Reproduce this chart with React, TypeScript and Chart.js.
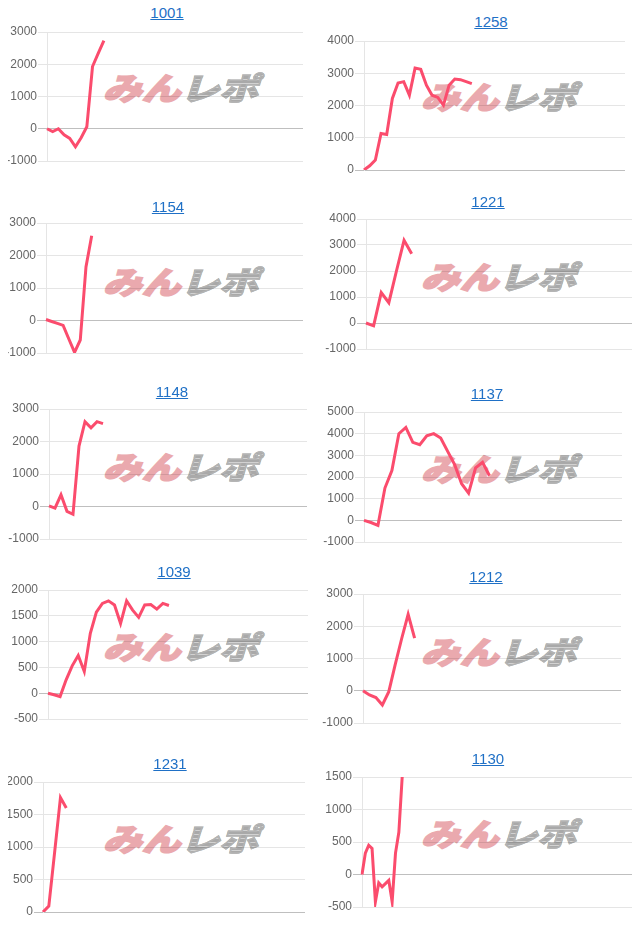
import React, { useEffect, useRef } from "react";
import { Chart, registerables } from "chart.js";

Chart.register(...registerables);

// ---- data ----
const chartIds = ["1001", "1258", "1154", "1221", "1148", "1137", "1039", "1212", "1231", "1130"];

const d1001 = [0, -90, 0, -190, -300, -560, -280, 60, 1930, 2340, 2730];
const d1258 = [0, 130, 310, 1130, 1100, 2220, 2700, 2740, 2320, 3160, 3120, 2630, 2320, 2250, 2010, 2630, 2820, 2800, 2740, 2680];
const d1154 = [30, -30, -90, -150, -570, -980, -600, 1650, 2610];
const d1221 = [0, -110, 1170, 780, 2000, 3180, 2660];
const d1148 = [20, -50, 360, -150, -240, 1860, 2610, 2420, 2610, 2550];
const d1137 = [0, -100, -230, 1490, 2300, 4000, 4290, 3600, 3490, 3900, 4000, 3800, 3180, 2570, 1690, 1260, 2420, 2680, 2060];
const d1039 = [0, -30, -65, 260, 530, 730, 420, 1160, 1570, 1740, 1790, 1710, 1350, 1790, 1610, 1470, 1710, 1720, 1630, 1740, 1700];
const d1212 = [0, -130, -210, -440, -30, 820, 1620, 2370, 1630];
const d1231 = [0, 90, 920, 1760, 1600];
const d1130 = [0, 330, 450, 400, -420, -130, -190, -140, -90, -420, 330, 650, 1500];

const seriesById: Record<string, number[]> = {
  "1001": d1001, "1258": d1258, "1154": d1154, "1221": d1221, "1148": d1148,
  "1137": d1137, "1039": d1039, "1212": d1212, "1231": d1231, "1130": d1130,
};

// y tick ranges: [min, max, step]
const yMins = [-1000, 0, -1000, -1000, -1000, -1000, -500, -1000, 0, -500];
const yMaxs = [3000, 4000, 3000, 4000, 3000, 5000, 2000, 3000, 2000, 1500];
const ySteps = [1000, 1000, 1000, 1000, 1000, 1000, 500, 1000, 500, 500];
// number of x category slots on each chart
const slotCounts = [45, 46, 45, 36, 43, 37, 43, 40, 45, 83];

// ---- layout (positions only) ----
type Layout = { tx: number; ty: number; L: number; R: number; T: number; B: number; wx: number };
const layouts: Layout[] = [
  { tx: 167, ty: 13, L: 47, R: 303, T: 32, B: 161, wx: 107 },
  { tx: 491, ty: 22, L: 364, R: 625, T: 41, B: 170, wx: 425 },
  { tx: 168, ty: 207, L: 46, R: 303, T: 223, B: 353, wx: 107 },
  { tx: 488, ty: 202, L: 366, R: 640, T: 219, B: 349, wx: 425 },
  { tx: 172, ty: 392, L: 49, R: 307, T: 409, B: 539, wx: 107 },
  { tx: 487, ty: 394, L: 364, R: 622, T: 412, B: 542, wx: 425 },
  { tx: 174, ty: 572, L: 48, R: 308, T: 590, B: 719, wx: 107 },
  { tx: 486, ty: 577, L: 363, R: 621, T: 594, B: 723, wx: 425 },
  { tx: 170, ty: 764, L: 43, R: 305, T: 782, B: 912, wx: 107 },
  { tx: 488, ty: 759, L: 362, R: 640, T: 777, B: 907, wx: 425 },
];

const AXW = 46;
const PADV = 10;
const LINE_COLOR = "#fb4c6d";

function MiniChart({ index }: { index: number }) {
  const ref = useRef<HTMLCanvasElement | null>(null);
  const id = chartIds[index];
  const lay = layouts[index];
  const canvasLeft = lay.L - AXW;
  const canvasTop = lay.T - PADV;
  const cw = lay.R - canvasLeft;
  const ch = lay.B - lay.T + PADV * 2;

  useEffect(() => {
    if (!ref.current) return;
    const labels = Array.from({ length: slotCounts[index] + 1 }, (_, i) => String(i));
    const chart = new Chart(ref.current, {
      type: "line",
      data: {
        labels,
        datasets: [
          {
            data: seriesById[id],
            borderColor: LINE_COLOR,
            backgroundColor: LINE_COLOR,
            borderWidth: 3,
            pointRadius: 0,
            tension: 0,
            fill: false,
          },
        ],
      },
      options: {
        responsive: false,
        animation: false,
        devicePixelRatio: 1,
        layout: { padding: { top: PADV, bottom: PADV, left: 0, right: 0 } },
        plugins: { legend: { display: false }, tooltip: { enabled: false }, title: { display: false } },
        scales: {
          x: { display: false },
          y: {
            min: yMins[index],
            max: yMaxs[index],
            ticks: {
              stepSize: ySteps[index],
              color: "#666",
              font: { family: "Arial, 'Liberation Sans', sans-serif", size: 12 },
              padding: 1,
              callback: (v: any) => String(v),
            },
            grid: {
              color: (c: any) => (c.tick && c.tick.value === 0 ? "rgba(0,0,0,0.25)" : "rgba(0,0,0,0.1)"),
              tickLength: 9,
            },
            border: { color: "rgba(0,0,0,0.1)" },
            afterFit: (s: any) => {
              s.width = AXW;
            },
          } as any,
        },
      },
    });
    return () => chart.destroy();
  }, [index]);

  return (
    <>
      <div
        style={{
          position: "absolute",
          left: lay.wx,
          top: lay.ty + 58,
          width: 160,
          height: 32,
          whiteSpace: "nowrap",
          fontFamily: "'Noto Sans CJK JP', sans-serif",
          fontWeight: 900,
          fontSize: 31,
          lineHeight: "32px",
          transform: "scaleX(1.25) skewX(-14deg)",
          transformOrigin: "left center",
          userSelect: "none",
        }}
      >
        <span style={{ color: "#eaa9ae", WebkitTextStroke: "1.6px #eaa9ae" } as any}>みん</span>
        <span
          style={{
            backgroundImage: "repeating-linear-gradient(to bottom, #a9a9a9 0px, #a9a9a9 3px, #d2d2d2 3px, #d2d2d2 4px)",
            WebkitBackgroundClip: "text",
            backgroundClip: "text",
            color: "transparent",
            WebkitTextStroke: "1.4px #b3b3b3",
          } as any}
        >
          レポ
        </span>
      </div>
      <canvas
        ref={ref}
        width={cw}
        height={ch}
        style={{ position: "absolute", left: canvasLeft, top: canvasTop, width: cw, height: ch, display: "block" }}
      />
      <div
        style={{
          position: "absolute",
          left: lay.tx - 60,
          top: lay.ty - 9,
          width: 120,
          textAlign: "center",
          lineHeight: "18px",
          fontFamily: "Arial, 'Liberation Sans', sans-serif",
          fontSize: 15,
        }}
      >
        <a href="#" style={{ color: "#1f70c6", textDecoration: "underline" }}>
          {id}
        </a>
      </div>
    </>
  );
}

export default function App() {
  return (
    <div
      style={{
        position: "relative",
        margin: -8,
        width: 640,
        height: 931,
        overflow: "hidden",
        background: "#fff",
      }}
    >
      {chartIds.map((_, i) => (
        <MiniChart key={i} index={i} />
      ))}
    </div>
  );
}
